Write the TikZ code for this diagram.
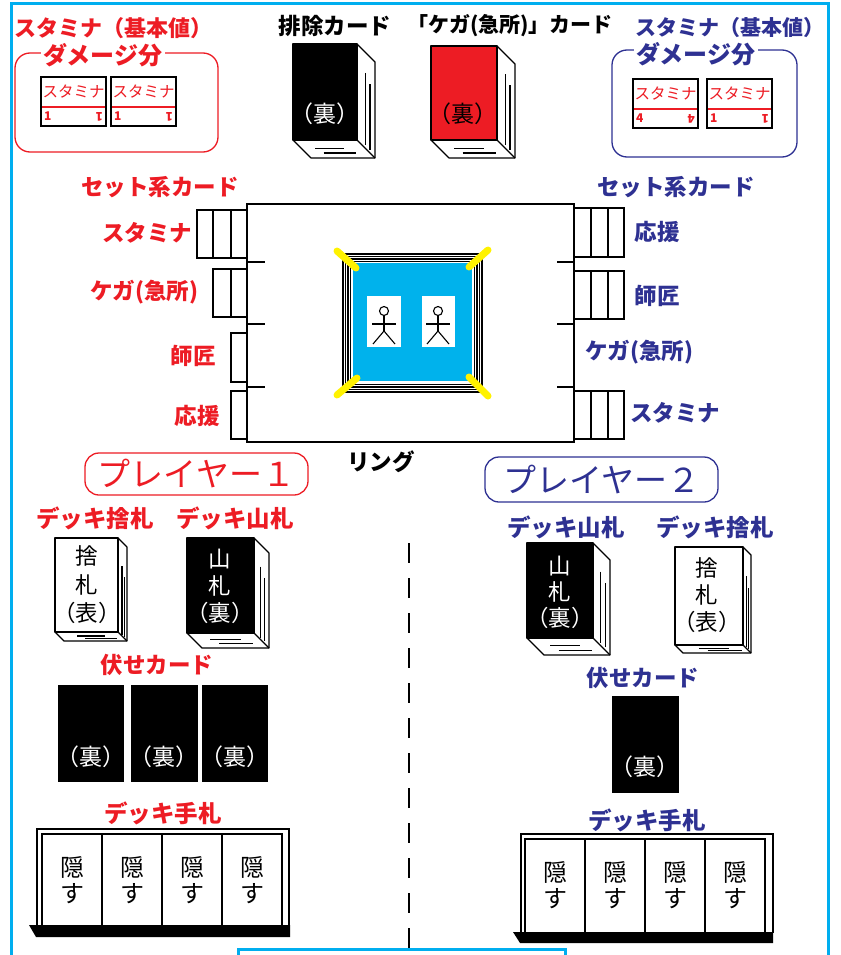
\documentclass[tikz,border=0pt]{standalone}
\usepackage{fontspec}
\setmainfont{Noto Sans CJK JP}
\definecolor{jred}{HTML}{ED1C24}
\definecolor{jblue}{HTML}{2E3192}
\definecolor{framecyan}{HTML}{00AEEF}
\definecolor{matcyan}{HTML}{00B2EC}
\definecolor{postyellow}{HTML}{FFF200}
\newcommand\fsz[1]{\fontsize{#1}{#1}\selectfont}
\newcommand\fszb[2]{\fontsize{#1}{#2}\selectfont}

% a card pile drawn as a book: front face, side face and bottom face
% #1 name, #2 x0, #3 y0, #4 x1, #5 y1, #6 depth, #7 front colour
\newcommand\bookdeck[7]{%
  \pgfmathsetmacro\dkR{#4+#6}%
  \pgfmathsetmacro\dkT{#3+#6}%
  \pgfmathsetmacro\dkB{#5+#6}%
  \pgfmathsetmacro\dkL{#2+#6}%
  \pgfmathsetmacro\dkW{#4-#2}%
  \pgfmathsetmacro\dkH{#5-#3}%
  \filldraw[deckline,fill=white] (#4,#3) -- (\dkR,\dkT) -- (\dkR,\dkB) -- (\dkL,\dkB) -- (#2,#5) -- cycle;
  \draw[deckline] (#4,#5) -- (\dkR,\dkB);
  \filldraw[deckline,fill=#7] (#2,#3) rectangle (#4,#5);
  \draw[pageline] ({#4+0.45*#6},{#3+0.3*\dkH}) -- ({#4+0.45*#6},{#5+0.3*#6});
  \draw[pageline] ({#4+0.72*#6},{#3+0.42*\dkH}) -- ({#4+0.72*#6},{#5+0.55*#6});
  \draw[pageline] ({#2+0.35*\dkW},{#5+0.45*#6}) -- ({#2+0.8*\dkW},{#5+0.45*#6});
  \draw[pageline] ({#2+0.48*\dkW},{#5+0.72*#6}) -- ({#2+0.98*\dkW},{#5+0.72*#6});
  \coordinate (#1) at ({(#2+#4)/2},{(#3+#5)/2});
}

% small stamina counter card with its value in both lower corners:
% #1 name, #2 x0, #3 y0, #4 value
\newcommand\staminacard[4]{%
  \draw[line width=1.4pt,fill=white] (#2,#3) rectangle ++(65,49);
  \draw[jred,line width=1.3pt] (#2+1,#3+30) -- ++(63,0);
  \node[text=jred,font=\fsz{15.5},inner sep=0pt] (#1t) at (#2+32.5,#3+14.5) {スタミナ};
  \node[text=jred,font=\bfseries\fsz{12},inner sep=0pt,anchor=west] (#1n) at (#2+3,#3+39.5) {#4};
  \node[text=jred,font=\bfseries\fsz{12},inner sep=0pt,rotate=180,anchor=west] (#1m) at (#2+62,#3+39.5) {#4};
}

\begin{document}
\begin{tikzpicture}[x=1pt,y=-1pt,
  lbl/.style={font=\bfseries\fsz{22.5},inner sep=0pt},
  redlbl/.style={lbl,text=jred},
  bluelbl/.style={lbl,text=jblue},
  blklbl/.style={lbl,text=black},
  deckline/.style={draw=black,line width=1.2pt,line join=round},
  pageline/.style={draw=black,line width=1.2pt},
  slot/.style={draw=black,line width=1.3pt,fill=white},
  backtxt/.style={font=\fsz{23},inner sep=0pt},
  stacktxt/.style={inner sep=0pt,align=center},
  hidetxt/.style={font={\fszb{24}{26}},inner sep=0pt,align=center},
  facedown/.style={fill=black,draw=black,line width=1pt},
  framel/.style={draw=framecyan,line width=3pt},
  tray/.style={draw=black,line width=1.3pt},
  rope/.style={draw=black,line width=1.3pt},
  post/.style={draw=postyellow,line width=7pt,line cap=round},
  dmgbox/.style={line width=1.3pt,rounded corners=15pt},
  playerbox/.style={line width=1.3pt,rounded corners=14pt,inner sep=0pt,font=\fsz{33}}
]
\useasboundingbox (0,0) rectangle (840,955);
\fill[white] (0,0) rectangle (840,955);

% page frame
\draw[framel] (11,958) -- (11,3.5) -- (828,3.5) -- (828,958);
\draw[framel] (238,960) -- (238,949) -- (565,949) -- (565,960);

% ---------- top row ----------
\node[redlbl,font=\bfseries\fsz{22}] (stA) at (113,28) {スタミナ（基本値）};
\draw[dmgbox,draw=jred] (15,53) rectangle (218,152);
\node[redlbl,font=\bfseries\fsz{24},fill=white,inner xsep=3pt] (dmA) at (103,55) {ダメージ分};
\staminacard{scA}{41}{77}{1}
\staminacard{scB}{111}{77}{1}

\node[bluelbl,font=\bfseries\fsz{21}] (stB) at (730,28) {スタミナ（基本値）};
\draw[dmgbox,draw=jblue] (612,50) rectangle (797,157);
\node[bluelbl,font=\bfseries\fsz{24},fill=white,inner xsep=3pt] (dmB) at (696,54) {ダメージ分};
\staminacard{scC}{633}{79}{4}
\staminacard{scD}{707}{79}{1}

\node[blklbl] (exlbl) at (335,26) {排除カード};
\node[blklbl,font=\bfseries\fsz{21}] (injlbl) at (510,26) {「ケガ(急所)」カード};
\bookdeck{exdeck}{293}{44}{357}{140}{18}{black}
\node[backtxt,text=white] (extxt) at (325,114) {（裏）};
\bookdeck{injdeck}{431}{46}{497}{140}{18}{jred}
\node[backtxt,text=black] (injtxt) at (463,114) {（裏）};

% ---------- ring ----------
\draw[line width=1.3pt,fill=white] (247,204) rectangle (574,442);
\fill[white] (342,253) rectangle (483,393);
\foreach \o in {0.9,3.5,6.1,8.7}
  \draw[rope] (342+\o,253+\o) rectangle (483-\o,393-\o);
\fill[matcyan] (353,263) rectangle (472,381);
\draw[post] (337,251) -- (356,268);
\draw[post] (488,250) -- (469,267);
\draw[post] (337,395) -- (357,378);
\draw[post] (488,396) -- (469,377);
\foreach \cx/\xa/\xb in {384/367/401, 438/422/455}{
  \fill[white] (\xa,296) rectangle (\xb,347);
  \draw[line width=1.1pt] (\cx,311) circle (4.5);
  \draw[line width=1.1pt] (\cx,315.5) -- (\cx,331);
  \draw[line width=1.1pt] (\cx-12,324) -- (\cx+12,324);
  \draw[line width=1.1pt] (\cx-11,344) -- (\cx,331) -- (\cx+11,344);
}
\node[blklbl] (ringlbl) at (381,462) {リング};

% set-card slots, player 1 side
\draw[slot] (197,210) rectangle (247,258);
\draw[line width=1.3pt] (213,210) -- (213,258) (231,210) -- (231,258);
\draw[slot] (213,269) rectangle (247,317);
\draw[line width=1.3pt] (231,269) -- (231,317);
\draw[slot] (231,333) rectangle (247,382);
\draw[slot] (231,391) rectangle (247,439);
\foreach \y in {262,324,387} \draw[line width=1.3pt] (247,\y) -- (265,\y);

% set-card slots, player 2 side
\foreach \ya/\yb in {208/257, 271/319, 391/439}{
  \draw[slot] (574,\ya) rectangle (624,\yb);
  \draw[line width=1.3pt] (591,\ya) -- (591,\yb) (608,\ya) -- (608,\yb);
}
\foreach \y in {262,324,387} \draw[line width=1.3pt] (557,\y) -- (574,\y);

\node[redlbl] (setA) at (160,187) {セット系カード};
\node[redlbl] (slA1) at (147,233) {スタミナ};
\node[redlbl] (slA2) at (144,292) {ケガ(急所)};
\node[redlbl] (slA3) at (193,356) {師匠};
\node[redlbl] (slA4) at (197,416) {応援};

\node[bluelbl] (setB) at (676,187) {セット系カード};
\node[bluelbl] (slB1) at (657,232) {応援};
\node[bluelbl] (slB2) at (657,296) {師匠};
\node[bluelbl] (slB3) at (639,352) {ケガ(急所)};
\node[bluelbl] (slB4) at (675,413) {スタミナ};

% divider between the two players
\draw[line width=1.8pt,dash pattern=on 20pt off 15pt] (409,543) -- (409,948);

% ---------- player 1 ----------
\node[playerbox,draw=jred,text=jred,minimum width=223pt,minimum height=42pt] (pA) at (196.5,474) {プレイヤー１};
\node[redlbl,font=\bfseries\fsz{23.5}] (discA) at (95,518) {デッキ捨札};
\node[redlbl,font=\bfseries\fsz{23.5}] (drawA) at (235,518) {デッキ山札};
\bookdeck{pAdisc}{55}{538}{118}{632}{9}{white}
\node[stacktxt,text=black,font={\fszb{22.5}{28.5}}] (pAdisct) at (87,585) {捨\\札\\（表）};
\bookdeck{pAdraw}{187}{538}{254}{633}{15}{black}
\node[stacktxt,text=white,font={\fszb{22.5}{27}}] (pAdrawt) at (220,586) {山\\札\\（裏）};

\node[redlbl] (faceA) at (157,665) {伏せカード};
\foreach \xa/\xb [count=\i] in {58/123, 131/197, 202/267}{
  \filldraw[facedown] (\xa,685) rectangle (\xb,781);
  \node[backtxt,text=white] (fdA\i) at ({(\xa+\xb)/2},757) {（裏）};
}

\node[redlbl,font=\bfseries\fsz{23.5}] (handA) at (163,813) {デッキ手札};
\draw[tray] (37,926) -- (37,829) -- (289,829) -- (289,926);
\draw[tray,fill=white] (42,926) -- (42,834) -- (282,834) -- (282,926);
\foreach \x in {102,162,222} \draw[tray] (\x,834) -- (\x,926);
\fill[black] (29,925) -- (290,925) -- (290,937) -- (36,937) -- cycle;
\foreach \cx [count=\i] in {72,132,192,252}
  \node[hidetxt] (hdA\i) at (\cx,880) {隠\\す};

% ---------- player 2 ----------
\node[playerbox,draw=jblue,text=jblue,minimum width=233pt,minimum height=45pt] (pB) at (601.5,479.5) {プレイヤー２};
\node[bluelbl,font=\bfseries\fsz{23.5}] (drawB) at (566,527) {デッキ山札};
\node[bluelbl,font=\bfseries\fsz{23.5}] (discB) at (715,527) {デッキ捨札};
\bookdeck{pBdraw}{527}{543}{593}{638}{17}{black}
\node[stacktxt,text=white,font={\fszb{22.5}{26}}] (pBdrawt) at (560,592) {山\\札\\（裏）};
\bookdeck{pBdisc}{675}{547}{743}{645}{8}{white}
\node[stacktxt,text=black,font={\fszb{22.5}{27}}] (pBdisct) at (707,595) {捨\\札\\（表）};

\node[bluelbl] (faceB) at (643,678) {伏せカード};
\filldraw[facedown] (612,696) rectangle (678,792);
\node[backtxt,text=white] (fdB1) at (645,767) {（裏）};

\node[bluelbl,font=\bfseries\fsz{23.5}] (handB) at (647,820) {デッキ手札};
\draw[tray] (521,933) -- (521,834) -- (773,834) -- (773,933);
\draw[tray,fill=white] (525,933) -- (525,839) -- (765,839) -- (765,933);
\foreach \x in {585,645,705} \draw[tray] (\x,839) -- (\x,933);
\fill[black] (513,932) -- (773,932) -- (773,943) -- (520,943) -- cycle;
\foreach \cx [count=\i] in {555,615,675,735}
  \node[hidetxt] (hdB\i) at (\cx,885) {隠\\す};
\end{tikzpicture}
\end{document}
